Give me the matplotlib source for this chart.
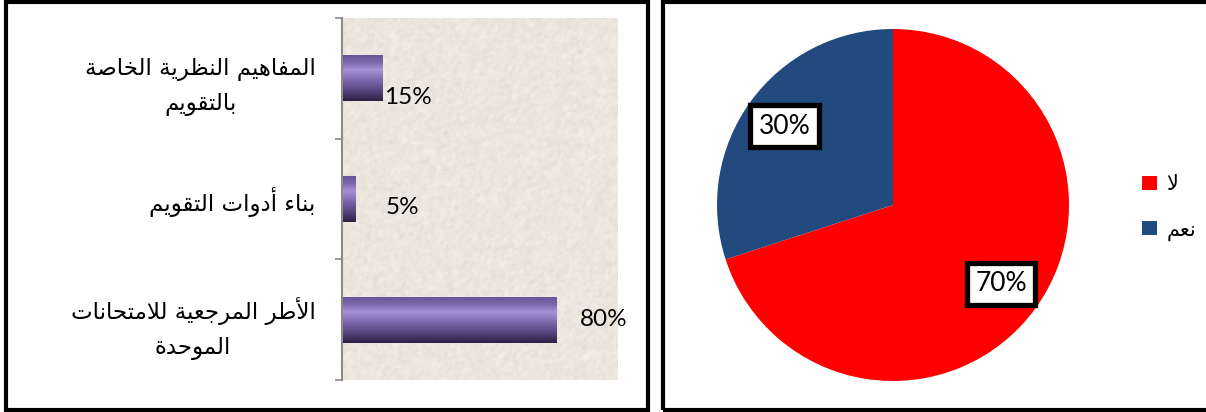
import numpy as np
import matplotlib
matplotlib.use("Agg")
from matplotlib import pyplot as plt
from matplotlib.patches import Rectangle
from matplotlib.colors import LinearSegmentedColormap

# bar chart data (top to bottom)
topics = ["المفاهيم النظرية الخاصة\nبالتقويم",
          "بناء أدوات التقويم",
          "الأطر المرجعية للامتحانات\nالموحدة"]
topic_pct = [15, 5, 80]

# pie chart data
answers = ["لا", "نعم"]
answer_pct = [70, 30]
answer_colors = ["#ff0000", "#234a7e"]

W, H, DPI = 1206, 412, 100
LATIN = ["Lato", "DejaVu Sans"]

# ---- minimal arabic shaping: matplotlib draws glyphs left to right, unjoined ----
FORMS = {
    "\u0621": ("\ufe80", None, None, None),
    "\u0623": ("\ufe83", "\ufe84", None, None),
    "\u0627": ("\ufe8d", "\ufe8e", None, None),
    "\u0628": ("\ufe8f", "\ufe90", "\ufe91", "\ufe92"),
    "\u0629": ("\ufe93", "\ufe94", None, None),
    "\u062a": ("\ufe95", "\ufe96", "\ufe97", "\ufe98"),
    "\u062c": ("\ufe9d", "\ufe9e", "\ufe9f", "\ufea0"),
    "\u062d": ("\ufea1", "\ufea2", "\ufea3", "\ufea4"),
    "\u062e": ("\ufea5", "\ufea6", "\ufea7", "\ufea8"),
    "\u062f": ("\ufea9", "\ufeaa", None, None),
    "\u0631": ("\ufead", "\ufeae", None, None),
    "\u0635": ("\ufeb9", "\ufeba", "\ufebb", "\ufebc"),
    "\u0637": ("\ufec1", "\ufec2", "\ufec3", "\ufec4"),
    "\u0638": ("\ufec5", "\ufec6", "\ufec7", "\ufec8"),
    "\u0639": ("\ufec9", "\ufeca", "\ufecb", "\ufecc"),
    "\u0641": ("\ufed1", "\ufed2", "\ufed3", "\ufed4"),
    "\u0642": ("\ufed5", "\ufed6", "\ufed7", "\ufed8"),
    "\u0644": ("\ufedd", "\ufede", "\ufedf", "\ufee0"),
    "\u0645": ("\ufee1", "\ufee2", "\ufee3", "\ufee4"),
    "\u0646": ("\ufee5", "\ufee6", "\ufee7", "\ufee8"),
    "\u0647": ("\ufee9", "\ufeea", "\ufeeb", "\ufeec"),
    "\u0648": ("\ufeed", "\ufeee", None, None),
    "\u064a": ("\ufef1", "\ufef2", "\ufef3", "\ufef4"),
}
LAM_ALEF = {"\u0627": ("\ufefb", "\ufefc"), "\u0623": ("\ufef7", "\ufef8")}


def shape_line(line):
    out = []
    i, n = 0, len(line)
    while i < n:
        c = line[i]
        if c not in FORMS:
            out.append(c)
            i += 1
            continue
        prev = line[i - 1] if i > 0 else None
        link_prev = prev in FORMS and FORMS[prev][2] is not None
        if c == "\u0644" and i + 1 < n and line[i + 1] in LAM_ALEF:
            iso, fin = LAM_ALEF[line[i + 1]]
            out.append(fin if link_prev else iso)
            i += 2
            continue
        nxt = line[i + 1] if i + 1 < n else None
        iso, fin, ini, med = FORMS[c]
        link_prev = link_prev and fin is not None
        link_next = ini is not None and nxt in FORMS and FORMS[nxt][1] is not None
        if link_prev and link_next:
            out.append(med)
        elif link_prev:
            out.append(fin)
        elif link_next:
            out.append(ini)
        else:
            out.append(iso)
        i += 1
    return "".join(reversed(out))


def ar(text):
    return "\n".join(shape_line(l) for l in text.split("\n"))


def fig_box(x0, y0, x1, y1):
    # pixel box (top-left origin) -> figure fraction rect
    return [x0 / W, 1 - y1 / H, (x1 - x0) / W, (y1 - y0) / H]


fig = plt.figure(figsize=(W / DPI, H / DPI), dpi=DPI)
fig.patch.set_facecolor("white")

# panel frames
for x0, x1 in [(6, 648), (663, 1212)]:
    fig.patches.append(Rectangle((x0 / W, 1 - 409.5 / H), (x1 - x0) / W, 408 / H,
                                 transform=fig.transFigure, fill=False,
                                 edgecolor="black", linewidth=3.0))

# ---------------- bar chart ----------------
ax = fig.add_axes(fig_box(342, 18, 618, 380))

# paper-like background
rng = np.random.default_rng(7)
tex = rng.normal(0, 1, (180, 140))
tex = (tex + np.roll(tex, 1, 0) + np.roll(tex, 1, 1)) / 3
base = np.array([236, 231, 222]) / 255
img = np.clip(base[None, None, :] + tex[..., None] * 0.022, 0, 1)
ax.imshow(img, extent=(0, 1, 0, 1), transform=ax.transAxes, aspect="auto",
          zorder=0, interpolation="bilinear")

ypos = np.arange(len(topics))[::-1] + 0.5
bar_h = 0.38
bars = ax.barh(ypos, topic_pct, height=bar_h, color="none", edgecolor="none", zorder=2)

cyl = LinearSegmentedColormap.from_list(
    "cyl", [(0.0, "#2c2243"), (0.18, "#4f3f75"), (0.45, "#7d67ad"),
            (0.68, "#a890d6"), (0.85, "#7d68ab"), (1.0, "#68559a")])
grad = np.linspace(0, 1, 64)[:, None]
for b, y, v in zip(bars, ypos, topic_pct):
    im = ax.imshow(grad, cmap=cyl, origin="lower", aspect="auto",
                   extent=(0, v, y - bar_h / 2, y + bar_h / 2), zorder=2)
    im.set_clip_path(b)

ax.set_xlim(0, 102.7)
ax.set_ylim(0, len(topics))
ax.set_xticks([])
for s in ["top", "right", "bottom"]:
    ax.spines[s].set_visible(False)
ax.spines["left"].set_color("#8a8a8a")
ax.spines["left"].set_linewidth(1.5)
ax.set_yticks(range(len(topics) + 1), minor=True)
ax.tick_params(axis="y", which="minor", length=5, width=1.2, color="#8a8a8a")
ax.set_yticks(ypos, [ar(t) for t in topics])
ax.tick_params(axis="y", which="major", length=0, pad=19)
for t in ax.get_yticklabels():
    t.set_fontsize(16.5)
    t.set_family("DejaVu Sans")
    t.set_multialignment("center")
    t.set_linespacing(1.6)

# value labels (pixel offsets from the bar end)
label_offsets = [(2, -19), (30, -8), (23, 0)]
for y, v, (dx, dy) in zip(ypos, topic_pct, label_offsets):
    ax.annotate(f"{v}%", xy=(v, y), xytext=(dx * 0.72, dy * 0.72),
                textcoords="offset points", ha="left", va="center",
                fontsize=17.5, family=LATIN, zorder=3)

# ---------------- pie chart ----------------
ax2 = fig.add_axes(fig_box(717, 29, 1069, 381))
wedges, _, autotexts = ax2.pie(
    answer_pct, colors=answer_colors, startangle=90, counterclock=False,
    autopct=lambda p: f"{p:.0f}%", pctdistance=0.76,
    textprops=dict(fontsize=19, family=LATIN, color="black"))
for t in autotexts:
    t.set_bbox(dict(boxstyle="square,pad=0.32", facecolor="white",
                    edgecolor="black", linewidth=3.8))
ax2.set_xlim(-1, 1)
ax2.set_ylim(-1, 1)
ax2.set_aspect("equal")

fig.legend(wedges, [ar(a) for a in answers], loc="upper left",
           bbox_to_anchor=(1134 / W, 1 - 166 / H), frameon=False,
           prop=dict(family="DejaVu Sans", size=15),
           handlelength=0.7, handleheight=0.7, handletextpad=0.45,
           labelspacing=1.2, borderaxespad=0)

fig.savefig("out.png", dpi=DPI)
